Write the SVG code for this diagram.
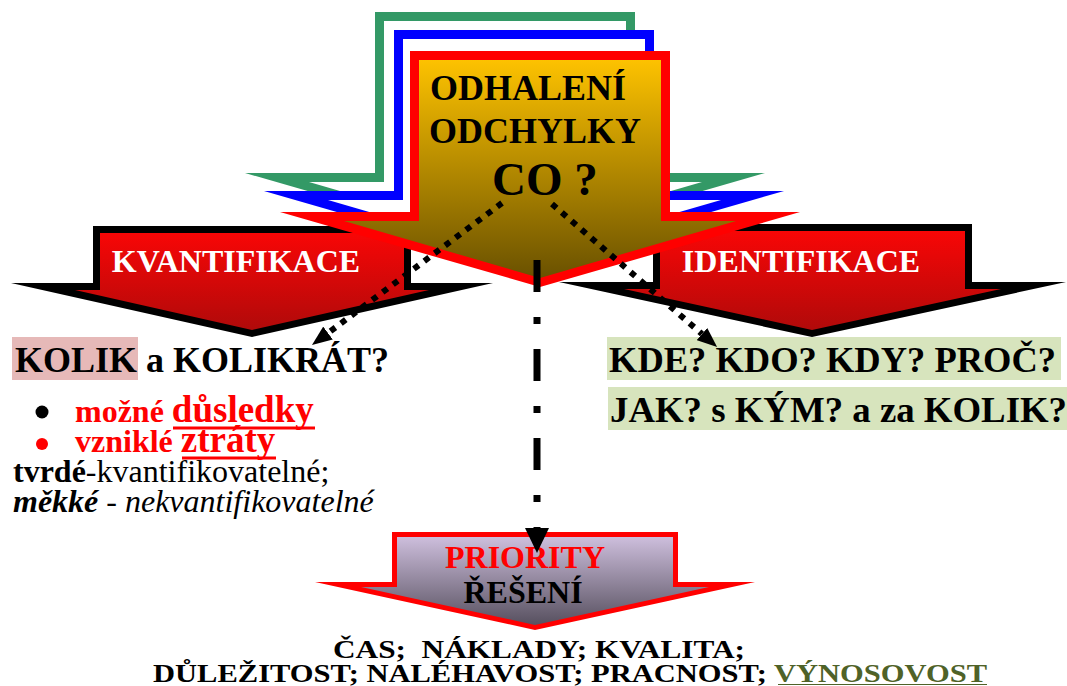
<svg xmlns="http://www.w3.org/2000/svg" width="1067" height="686" viewBox="0 0 1067 686" font-family="'Liberation Serif', 'DejaVu Serif', serif">
<defs>
<linearGradient id="gGold" x1="0" y1="0" x2="0" y2="1"><stop offset="0" stop-color="#FDC200"/><stop offset="1" stop-color="#6A5100"/></linearGradient>
<linearGradient id="gRed" x1="0" y1="0" x2="0" y2="1"><stop offset="0" stop-color="#F80606"/><stop offset="1" stop-color="#B00A0A"/></linearGradient>
<linearGradient id="gLav" x1="0" y1="0" x2="0" y2="1"><stop offset="0" stop-color="#CDBEDC"/><stop offset="1" stop-color="#57505F"/></linearGradient>
<marker id="ah" viewBox="0 0 20 16" refX="0" refY="8" markerWidth="20" markerHeight="16" markerUnits="userSpaceOnUse" orient="auto"><path d="M0,0 L20,8 L0,16 z" fill="#000"/></marker>
<marker id="ahv" viewBox="0 0 25 24" refX="0" refY="12" markerWidth="25" markerHeight="24" markerUnits="userSpaceOnUse" orient="auto"><path d="M0,0 L25,12 L0,24 z" fill="#000"/></marker>
</defs>
<style>
text{font-family:'Liberation Serif','DejaVu Serif',serif;font-weight:bold;white-space:pre}
.blk{fill:#000}
.wht{fill:#fff}
.red{fill:#FF0000}
.reg{font-weight:normal}
.it{font-style:italic}
.dot{fill:none;stroke:#000;stroke-width:6;stroke-dasharray:6 7}
</style>
<rect width="1067" height="686" fill="#fff"/>

<g id="arrow-green">
<polygon points="375,12 635,12 635,173 765,173 505,248 245,173 375,173" fill="#339966"/>
<polygon points="384,21 626,21 626,182 702,182 505,239 309,182 384,182" fill="#fff"/>
</g>
<g id="arrow-blue">
<polygon points="394,30 654,30 654,191 784,191 524,266 264,191 394,191" fill="#0000FF"/>
<polygon points="403,39 645,39 645,200 721,200 524,257 328,200 403,200" fill="#fff"/>
</g>
<g id="kvantifikace">
<polygon points="93,226 411,226 411,283 493,283 252,337 11,283 93,283" fill="#000"/>
<polygon points="100,233 404,233 404,290 429,290 252,330 75,290 100,290" fill="url(#gRed)"/>
<text x="236" y="272" font-size="32" text-anchor="middle" class="wht">KVANTIFIKACE</text>
</g>
<g id="identifikace">
<polygon points="653,224 972,224 972,282 1066,282 812,337 559,282 653,282" fill="#000"/>
<polygon points="660,231 965,231 965,289 1001,289 812,330 624,289 660,289" fill="url(#gRed)"/>
<text x="801" y="272" font-size="32" text-anchor="middle" class="wht">IDENTIFIKACE</text>
</g>
<g id="odhaleni">
<polygon points="410,51 670,51 670,212 800,212 540,287 280,212 410,212" fill="#FF0000"/>
<polygon points="419,60 661,60 661,221 736,221 540,278 344,221 419,221" fill="url(#gGold)"/>
<text x="430" y="100" font-size="36" class="blk">ODHALENÍ</text>
<text x="429" y="143" font-size="36" class="blk">ODCHYLKY</text>
<text x="492" y="195" font-size="47" class="blk">CO ?</text>
</g>
<g id="kolik">
<rect x="12" y="337" width="126" height="43" fill="#E6B9B8"/>
<text x="15" y="372" font-size="36" class="blk">KOLIK a KOLIKRÁT?</text>
<circle cx="42" cy="412" r="6.5" fill="#000"/>
<circle cx="42" cy="444" r="6" fill="#FF0000"/>
<text x="75" y="422" font-size="32" class="red">možné <tspan font-size="37">důsledky</tspan></text>
<line x1="173" y1="428" x2="315" y2="428" stroke="#FF0000" stroke-width="3"/>
<text x="75" y="452" font-size="32" class="red">vzniklé <tspan font-size="37">ztráty</tspan></text>
<line x1="182" y1="458" x2="276" y2="458" stroke="#FF0000" stroke-width="3"/>
<text x="13" y="482" font-size="32" class="blk">tvrdé<tspan class="reg">-kvantifikovatelné;</tspan></text>
<text x="13" y="512" font-size="32" class="blk it">měkké<tspan class="reg"> - nekvantifikovatelné</tspan></text>
</g>
<g id="kde">
<rect x="607" y="337" width="454" height="43" fill="#D7E4BD"/>
<text x="609" y="372" font-size="36" textLength="447" lengthAdjust="spacingAndGlyphs" class="blk">KDE? KDO? KDY? PROČ?</text>
<rect x="608" y="387" width="459" height="43" fill="#D7E4BD"/>
<text x="610" y="422" font-size="36" textLength="457" lengthAdjust="spacingAndGlyphs" class="blk">JAK? s KÝM? a za KOLIK?</text>
</g>
<g id="priority">
<polygon points="392,532 678,532 678,582 755,582 535,630 315,582 392,582" fill="#FF0000"/>
<polygon points="397,537 673,537 673,587 709,587 535,625 361,587 397,587" fill="url(#gLav)"/>
<text x="525" y="568" font-size="32" text-anchor="middle" class="red">PRIORITY</text>
<text x="523" y="603" font-size="32" text-anchor="middle" class="blk">ŘEŠENÍ</text>
</g>
<g id="criteria">
<text x="333" y="658" font-size="26" textLength="412" lengthAdjust="spacingAndGlyphs" class="blk">ČAS;  NÁKLADY; KVALITA;</text>
<text x="153" y="682" font-size="26" textLength="834" lengthAdjust="spacingAndGlyphs" class="blk">DŮLEŽITOST; NALÉHAVOST; PRACNOST; <tspan fill="#4F6228">VÝNOSOVOST</tspan></text>
<line x1="778" y1="684.5" x2="987" y2="684.5" stroke="#4F6228" stroke-width="1.2"/>
</g>
<g id="connectors">
<line x1="502" y1="203" x2="328" y2="333" class="dot" marker-end="url(#ah)"/>
<line x1="552" y1="204" x2="702" y2="334" class="dot" marker-end="url(#ah)"/>
<line x1="537" y1="260" x2="537" y2="528" stroke="#000" stroke-width="7" stroke-dasharray="32 25 7 25" marker-end="url(#ahv)"/>
</g>
</svg>
